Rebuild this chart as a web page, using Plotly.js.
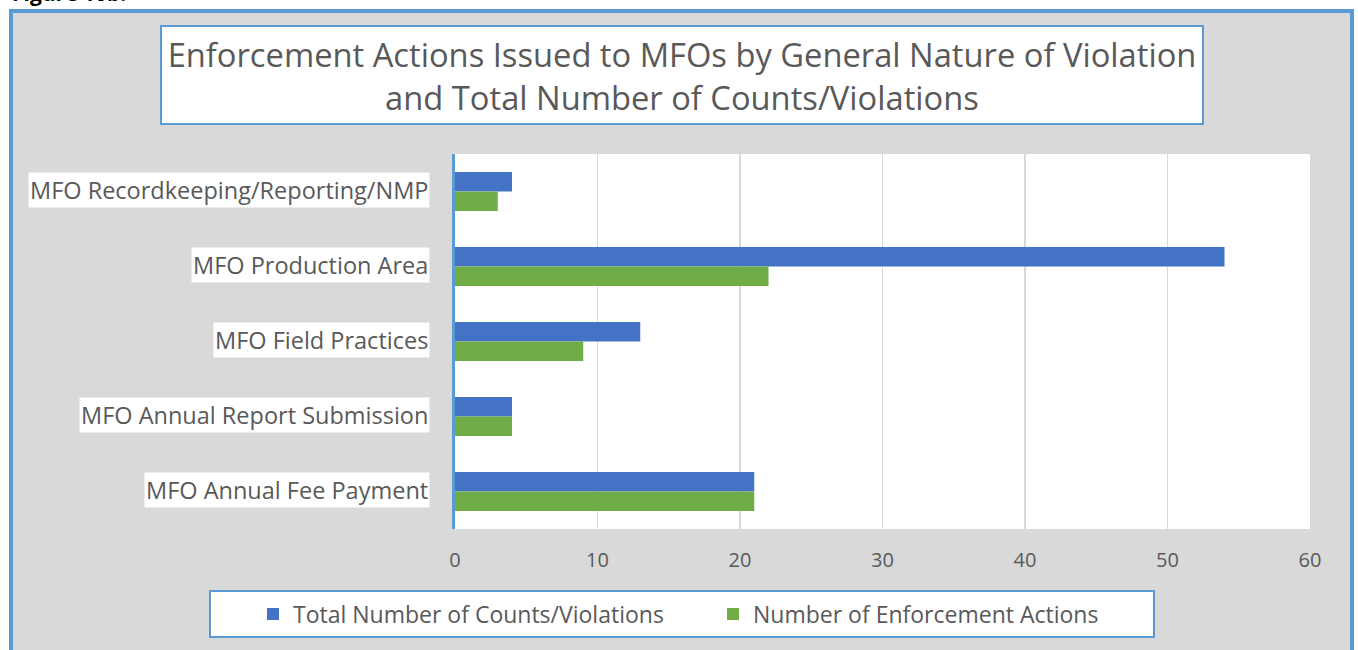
<!DOCTYPE html>
<html>
<head>
<meta charset="utf-8">
<script src="https://cdn.plot.ly/plotly-3.0.1.min.js"></script>
<style>html,body{margin:0;padding:0;background:#fff;}#chart{width:1358px;height:650px;}</style>
</head>
<body>
<div id="chart"></div>
<script>
// ---- data ----
const categories = [
  "MFO Recordkeeping/Reporting/NMP",
  "MFO Production Area",
  "MFO Field Practices",
  "MFO Annual Report Submission",
  "MFO Annual Fee Payment"
];
const totalCounts = [4, 54, 13, 4, 21];
const enforcementActions = [3, 22, 9, 4, 21];
const seriesNames = ["Total Number of Counts/Violations", "Number of Enforcement Actions"];
const xTicks = [0, 10, 20, 30, 40, 50, 60];
const titleText = "Enforcement Actions Issued to MFOs by General Nature of Violation<br>and Total Number of Counts/Violations";

// ---- layout helpers (pixel -> paper) ----
const W = 1358, H = 650;
const M = {l: 455, r: 48, t: 154, b: 121};
const PW = W - M.l - M.r, PH = H - M.t - M.b;
const px = x => (x - M.l) / PW;
const py = y => (H - M.b - y) / PH;

const FONT = "Open Sans, Lato, sans-serif";
const GREY_TXT = "#595959";
const BLUE_BORDER = "#5b9bd5";

const traces = [
  {type: "bar", orientation: "h", name: seriesNames[0], y: categories, x: totalCounts,
   marker: {color: "#4472c4"}, hoverinfo: "x+name"},
  {type: "bar", orientation: "h", name: seriesNames[1], y: categories, x: enforcementActions,
   marker: {color: "#70ad47"}, hoverinfo: "x+name"}
];

const shapes = [
  // outer chart area (grey with blue border)
  {type: "rect", xref: "paper", yref: "paper", layer: "below",
   x0: px(11), x1: px(1352), y0: py(11), y1: py(670),
   fillcolor: "#d9d9d9", line: {color: BLUE_BORDER, width: 4}},
  // plot area white
  {type: "rect", xref: "paper", yref: "paper", layer: "below",
   x0: 0, x1: 1, y0: 0, y1: 1, fillcolor: "#ffffff", line: {width: 0}},
  // title box
  {type: "rect", xref: "paper", yref: "paper", layer: "below",
   x0: px(161), x1: px(1203), y0: py(26), y1: py(124),
   fillcolor: "#ffffff", line: {color: BLUE_BORDER, width: 2}},
  // legend box
  {type: "rect", xref: "paper", yref: "paper", layer: "below",
   x0: px(210), x1: px(1154), y0: py(591), y1: py(637),
   fillcolor: "#ffffff", line: {color: BLUE_BORDER, width: 2}}
];

const annotations = categories.map(c => ({
  xref: "paper", yref: "y", x: px(430), y: c, xanchor: "right", yanchor: "middle",
  text: c, showarrow: false, bgcolor: "#ffffff", borderpad: 1, yshift: 2,
  font: {family: FONT, size: 23.5, color: GREY_TXT}
}));
annotations.push({
  xref: "paper", yref: "paper", x: px(10), y: py(9), xanchor: "left", yanchor: "bottom",
  text: "<b>Figure 10b.</b>", showarrow: false,
  font: {family: FONT, size: 21, color: "#000000"}
});

const layout = {
  width: W, height: H,
  margin: M,
  paper_bgcolor: "#ffffff",
  plot_bgcolor: "#ffffff",
  font: {family: FONT, color: GREY_TXT},
  title: {
    text: titleText,
    x: 682 / W, xref: "container", xanchor: "center",
    y: 1 - 67 / H, yref: "container", yanchor: "middle",
    font: {family: FONT, size: 32.7, color: GREY_TXT}
  },
  barmode: "group",
  bargap: 0.48,
  bargroupgap: 0,
  xaxis: {
    range: [0, 60], tickvals: xTicks, ticktext: xTicks.map(String),
    showgrid: true, gridcolor: "#d9d9d9", gridwidth: 1.5,
    zeroline: false, showline: false,
    ticks: "outside", ticklen: 13, tickcolor: "rgba(0,0,0,0)",
    tickfont: {family: FONT, size: 20, color: GREY_TXT},
    fixedrange: true
  },
  yaxis: {
    type: "category", categoryorder: "array", categoryarray: categories,
    autorange: "reversed",
    showticklabels: false, showgrid: false, zeroline: false,
    showline: true, linecolor: BLUE_BORDER, linewidth: 3,
    fixedrange: true
  },
  showlegend: true,
  legend: {
    orientation: "h", xref: "paper", yref: "paper",
    x: px(253), xanchor: "left", y: py(614), yanchor: "middle",
    bgcolor: "rgba(0,0,0,0)", borderwidth: 0,
    entrywidth: 415, entrywidthmode: "pixels",
    font: {family: FONT, size: 23, color: GREY_TXT},
    traceorder: "normal"
  },
  shapes: shapes,
  annotations: annotations
};

Plotly.newPlot("chart", traces, layout, {displayModeBar: false, staticPlot: true});
</script>
</body>
</html>
